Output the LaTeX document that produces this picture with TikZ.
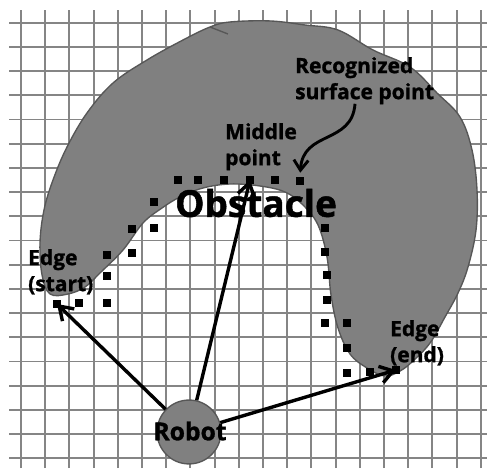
\documentclass[tikz,border=0pt]{standalone}
\usepackage{fontspec}
\setmainfont{Open Sans}[BoldFeatures={FakeBold=1.2}]
\usetikzlibrary{arrows.meta}
\colorlet{gridgray}{black!48}
\colorlet{blobgray}{black!50}
\colorlet{blobedge}{black!66}

\tikzset{
  gridline/.style={line width=2.2pt, gridgray},
  blob/.style={fill=blobgray, draw=blobedge, line width=1.6pt},
  surfpt/.style={rectangle, fill=black, minimum size=9pt, inner sep=0pt},
  robotbody/.style={circle, fill=blobgray, draw=blobedge, line width=1.6pt, minimum size=2.64cm, inner sep=0pt},
  ray/.style={line width=4pt, -{Straight Barb[length=15pt,width=20pt]}},
  tag/.style={font=\bfseries\fontsize{24.7}{30.6}\selectfont, align=left, anchor=north west, inner sep=0pt},
}

\begin{document}
\begin{tikzpicture}
  \useasboundingbox (-0.868,-0.401) rectangle (19.256,18.938);
  \draw[gridline, step=1] (-0.496,-0.401) grid (19.256,18.525);
% obstacle
\draw[blob] plot[smooth cycle, tension=0.6] coordinates {
  (1.198,6.789) (0.868,7.583) (0.785,8.905) (0.950,10.260) (1.322,11.500)
  (1.901,12.864) (2.727,14.269) (3.802,15.508) (5.207,16.459) (6.694,17.285)
  (7.810,17.822) (8.636,18.029) (10.289,18.072) (11.736,17.905) (13.099,17.698)
  (14.545,16.872) (16.074,16.169) (17.190,15.095) (18.140,14.103) (18.636,12.740)
  (18.843,11.087) (18.802,9.434) (18.471,7.905) (18.058,6.831) (17.521,5.839)
  (16.901,4.764) (16.198,4.021) (15.661,3.607) (15.041,3.401) (14.298,3.731)
  (13.595,4.310) (13.099,5.384) (12.810,6.748) (12.645,8.318) (12.273,9.640)
  (11.653,10.467) (10.909,11.004) (9.876,11.252) (8.636,11.335) (7.521,11.169)
  (6.570,10.798) (5.826,10.343) (5.041,9.723) (4.215,8.607) (3.264,7.657)
  (2.645,7.078) (1.942,6.789)};
\draw[blobedge, line width=1.6pt] (7.810,17.822) -- (8.553,17.533);
% surface points
\node[surfpt] (s1) at (1.488,6.376) {};
\node[surfpt] (s2) at (2.397,6.417) {};
\node[surfpt] (s3) at (3.554,6.417) {};
\node[surfpt] (s4) at (3.554,7.533) {};
\node[surfpt] (s5) at (3.554,8.401) {};
\node[surfpt] (s6) at (4.587,8.483) {};
\node[surfpt] (s7) at (4.587,9.475) {};
\node[surfpt] (s8) at (5.496,9.517) {};
\node[surfpt] (s9) at (5.496,10.591) {};
\node[surfpt] (s10) at (6.488,11.500) {};
\node[surfpt] (s11) at (7.314,11.500) {};
\node[surfpt] (s12) at (8.388,11.500) {};
\node[surfpt] (s13) at (9.463,11.500) {};
\node[surfpt] (s14) at (10.496,11.500) {};
\node[surfpt] (s15) at (11.529,11.459) {};
\node[surfpt] (s16) at (12.562,9.517) {};
\node[surfpt] (s17) at (12.562,8.525) {};
\node[surfpt] (s18) at (12.645,7.574) {};
\node[surfpt] (s19) at (12.645,6.541) {};
\node[surfpt] (s20) at (12.562,5.591) {};
\node[surfpt] (s21) at (13.471,5.591) {};
\node[surfpt] (s22) at (13.471,4.558) {};
\node[surfpt] (s23) at (13.471,3.525) {};
\node[surfpt] (s24) at (14.421,3.566) {};
\node[surfpt] (s25) at (15.496,3.649) {};
% labels
\node[tag] (recog) at (11.322,16.583) {Recognized\\surface point};
\node[tag] (middle) at (8.430,13.855) {Middle\\point};
\node[tag] (estart) at (0.289,8.649) {Edge\\(start)};
\node[tag] (eend) at (15.248,5.715) {Edge\\(end)};
\node[font=\bfseries\fontsize{43.5}{50}\selectfont, inner sep=0pt] (obst) at (9.711,10.550) {Obstacle};
\coordinate (ptr) at (13.802,14.649);
\draw[line width=3.4pt, -{Straight Barb[length=12pt,width=17pt]}, shorten >=5pt]
  (ptr) .. controls (13.678,12.955) and (11.653,13.566) .. (s15.north);
% robot and rays
\node[robotbody] (robot) at (6.942,1.087) {};
\draw[ray] (robot) -- (s1.center);
\draw[ray] (robot) -- (s13.center);
\draw[ray] (robot) -- (s25.center);
\node[font=\bfseries\fontsize{29}{34}\selectfont, inner sep=0pt] (robotlbl) at (6.983,1.128) {Robot};

\end{tikzpicture}
\end{document}
